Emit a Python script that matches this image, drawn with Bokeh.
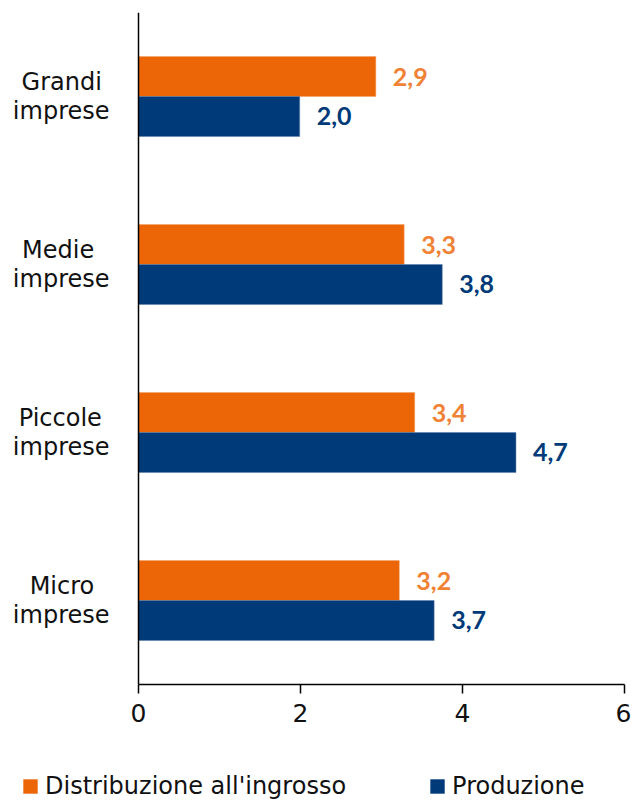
from bokeh.plotting import figure
from bokeh.layouts import column
from bokeh.models import (ColumnDataSource, FactorRange, Range1d, Legend, LegendItem,
                          FixedTicker, LabelSet)
from bokeh.transform import dodge
from bokeh.core.properties import value
from bokeh.embed import file_html
from bokeh.resources import INLINE

categories = ["Grandi imprese", "Medie imprese", "Piccole imprese", "Micro imprese"]
distribuzione = [2.93, 3.28, 3.41, 3.22]
produzione = [1.99, 3.75, 4.66, 3.65]
distribuzione_labels = ["2,9", "3,3", "3,4", "3,2"]
produzione_labels = ["2,0", "3,8", "4,7", "3,7"]
series_names = ["Distribuzione all'ingrosso", "Produzione"]
x_ticks = [0, 2, 4, 6]

FONT = "DejaVu Sans"
BFONT = "Lato"
ORANGE = "#EC6608"
ORANGE_TXT = "#F08236"
BLUE = "#003A78"
TXT = "#111111"

# layout: plot frame spans the whole width; value 0 sits 138px from the left edge
W = 631
FRAME_R = 7
AXIS_X = 138
XMAX = 6
x_start = -AXIS_X * XMAX / (W - FRAME_R - AXIS_X)

# two-line tick labels, first line padded so both lines look centred
NBSP = "\u00a0"
pad = {"Grandi": 1, "Medie": 2, "Piccole": 1, "Micro": 2}
factors = []
for c in categories:
    a, b = c.split(" ", 1)
    factors.append(a + NBSP * pad.get(a, 0) + "\n" + b)

src = ColumnDataSource(dict(cat=factors, d=distribuzione, p=produzione,
                            dl=distribuzione_labels, pl=produzione_labels))

p = figure(width=W, height=764, output_backend="svg", toolbar_location=None,
           y_range=FactorRange(*factors[::-1]), x_range=Range1d(x_start, XMAX),
           min_border_left=0, min_border_right=FRAME_R, min_border_top=12, min_border_bottom=80)
p.outline_line_color = None
p.xgrid.visible = False
p.ygrid.visible = False

h = 0.238
p.hbar(y=dodge("cat", h / 2, range=p.y_range), right="d", left=0, height=h,
       source=src, fill_color=ORANGE, line_color="#F5A060", line_width=0.5)
p.hbar(y=dodge("cat", -h / 2, range=p.y_range), right="p", left=0, height=h,
       source=src, fill_color=BLUE, line_color="#5A7FAF", line_width=0.5)

p.add_layout(LabelSet(x="d", y=dodge("cat", h / 2, range=p.y_range), text="dl", source=src,
                      x_offset=17, text_baseline="middle", text_align="left",
                      text_font=value(BFONT), text_font_style="bold", text_font_size="25px",
                      text_color=ORANGE_TXT))
p.add_layout(LabelSet(x="p", y=dodge("cat", -h / 2, range=p.y_range), text="pl", source=src,
                      x_offset=17, text_baseline="middle", text_align="left",
                      text_font=value(BFONT), text_font_style="bold", text_font_size="25px",
                      text_color=BLUE))

xa = p.xaxis[0]
xa.ticker = FixedTicker(ticks=x_ticks)
xa.bounds = (0, XMAX)
xa.minor_tick_line_color = None
xa.major_tick_out = 9
xa.major_tick_in = 0
xa.axis_line_width = 1.5
xa.major_tick_line_width = 1.5
xa.axis_line_color = "black"
xa.major_label_text_font = FONT
xa.major_label_text_font_size = "25px"
xa.major_label_text_color = TXT
xa.major_label_standoff = 10

ya = p.yaxis[0]
ya.fixed_location = 0
ya.major_tick_line_color = None
ya.minor_tick_line_color = None
ya.axis_line_width = 1.5
ya.axis_line_color = "black"
ya.major_label_text_font = FONT
ya.major_label_text_font_size = "24px"
ya.major_label_text_color = TXT
ya.major_label_text_line_height = 1.05
ya.major_label_standoff = 23

# legend strip
lg = figure(width=W, height=36, output_backend="svg", toolbar_location=None,
            x_range=Range1d(0, 1), y_range=Range1d(0, 1),
            x_axis_type=None, y_axis_type=None, min_border=0)
lg.outline_line_color = None
lg.xgrid.visible = False
lg.ygrid.visible = False
lsrc = ColumnDataSource(dict(y=[-5], r=[1]))
g1 = lg.hbar(y="y", right="r", height=1, source=lsrc, fill_color=ORANGE, line_color=None)
g2 = lg.hbar(y="y", right="r", height=1, source=lsrc, fill_color=BLUE, line_color=None)
legend = Legend(items=[LegendItem(label=series_names[0], renderers=[g1]),
                       LegendItem(label=series_names[1], renderers=[g2])],
                orientation="horizontal", location=(21, 0),
                label_text_font=FONT, label_text_font_size="24px",
                label_text_color=TXT, glyph_width=18, glyph_height=18,
                label_standoff=6, spacing=82, padding=0, margin=0,
                border_line_color=None, background_fill_alpha=0)
lg.add_layout(legend, "center")

open("out.html", "w").write(file_html(column(p, lg, spacing=0), INLINE))
